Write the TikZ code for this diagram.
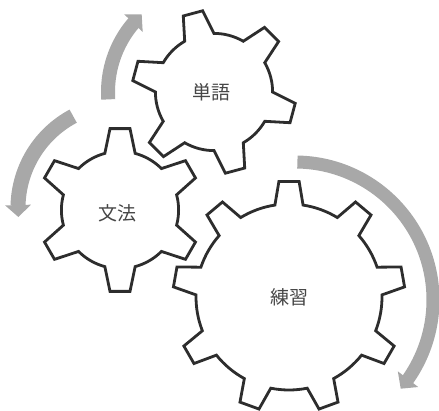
\documentclass[tikz,border=0pt]{standalone}
\usepackage{fontspec}
\newfontfamily\cjk{Noto Sans CJK JP}
\usetikzlibrary{arrows.meta,bending}
\definecolor{gearcol}{RGB}{45,45,45}
\definecolor{arrowcol}{RGB}{168,168,168}
\definecolor{labelcol}{RGB}{70,70,70}
\tikzset{
 gearline/.style={draw=gearcol, line width=2.8pt, fill=white, line join=miter},
 turnarrow/.style={draw=arrowcol, line width=14pt, -{Triangle[width=25pt,length=12pt,flex]}},
 gearlabel/.style={font=\cjk\fontsize{19}{21}\selectfont, text=labelcol, inner sep=0pt}
}
\newcommand{\drawgear}[8]{%
 \pgfmathsetmacro\gearper{360/#3}%
 \pgfmathsetmacro\geargap{\gearper-2*#8}%
 \pgfmathsetmacro\gearstart{#4-#8}%
 \pgfmathtruncatemacro\gearlast{#3-1}%
 \begin{scope}[shift={(#1,#2)}]
 \draw[gearline] (\gearstart:#6pt)
 \foreach \k [evaluate=\k as \a using #4+\k*\gearper, evaluate=\k as \s using #4+\k*\gearper+#8] in {0,...,\gearlast}{
   -- ({\a-#7}:#5pt) -- ({\a+#7}:#5pt) -- (\s:#6pt) arc[start angle=\s, delta angle=\geargap, radius=#6pt]
 } -- cycle;
 \end{scope}}
\begin{document}
\begin{tikzpicture}[x=1pt,y=1pt]
\useasboundingbox (0,0) rectangle (439,410);
% rotation arrows
\draw[turnarrow] ([shift={(214,318)}]184:106pt) arc[start angle=184, end angle=133, radius=106pt];
\draw[turnarrow, line width=15pt] ([shift={(122,202)}]118:104pt) arc[start angle=118, end angle=185, radius=104pt];
\draw[turnarrow, line width=13pt] ([shift={(295,110)}]89:138pt) arc[start angle=89, end angle=-40, radius=138pt];
% gears
\drawgear{214}{318}{6}{105}{82}{58.6}{7}{15}
\drawgear{120}{200}{6}{90}{82}{58.6}{7}{15}
\drawgear{289}{113}{9}{90}{116}{93}{5}{8.7}
% labels
\node[gearlabel] (tango) at (211,318) {単語};
\node[gearlabel] (bunpo) at (117,196.5) {文法};
\node[gearlabel] (renshu) at (289,113) {練習};
\end{tikzpicture}
\end{document}
